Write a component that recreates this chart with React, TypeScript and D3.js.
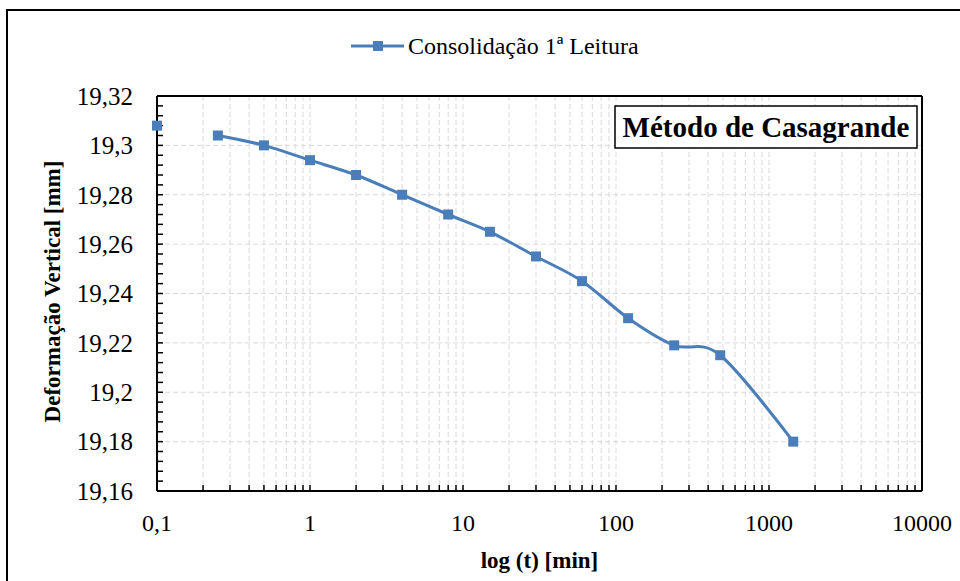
import React from "react";
import * as d3 from "d3";

const times = [0.1, 0.25, 0.5, 1, 2, 4, 8, 15, 30, 60, 120, 240, 480, 1440];
const deform = [19.308, 19.304, 19.3, 19.294, 19.288, 19.28, 19.272, 19.265, 19.255, 19.245, 19.23, 19.219, 19.215, 19.18];
const yTicks = [19.16, 19.18, 19.2, 19.22, 19.24, 19.26, 19.28, 19.3, 19.32];
const xMajor = [0.1, 1, 10, 100, 1000, 10000];
const seriesName = "Consolidação 1ª Leitura";
const boxTitle = "Método de Casagrande";
const xTitle = "log (t) [min]";
const yTitle = "Deformação Vertical [mm]";

const W = 960, H = 581;
const L = 157, R = 922, T = 96, B = 491;
const FONT = "Times New Roman, Liberation Serif, DejaVu Serif, serif";
const BLUE = "#4a7ebb";

const fmt = (v: number) => String(+v.toFixed(3)).replace(".", ",");

export default function App() {
  const x = d3.scaleLog().domain([0.1, 10000]).range([L, R]);
  const y = d3.scaleLinear().domain([19.16, 19.32]).range([B, T]);

  const xAll: number[] = [];
  for (let e = -1; e < 4; e++) for (let k = 1; k <= 9; k++) xAll.push(k * Math.pow(10, e));
  xAll.push(10000);
  const yMinor: number[] = [];
  for (let i = 0; i <= 40; i++) yMinor.push(19.16 + i * 0.004);

  const pts = times.map((t, i) => [x(t), y(deform[i])] as [number, number]);
  const line = d3.line().curve(d3.curveCardinal.tension(0))(pts.slice(1)) || "";

  return (
    <svg width={W} height={H} style={{ position: "absolute", left: 0, top: 0, fontFamily: FONT }}>
      <rect x={0} y={0} width={W} height={H} fill="#fff" />
      <rect x={7} y={10} width={W + 10} height={H + 10} fill="none" stroke="#000" strokeWidth={2} />
      {/* grid */}
      {xAll.filter(v => v > 0.1 && v < 10000).map((v, i) => (
        <line key={"gx" + i} x1={x(v)} x2={x(v)} y1={T} y2={B} stroke="#d9d9d9" strokeWidth={1} strokeDasharray="5,3" />
      ))}
      {yTicks.filter(v => v > 19.16 && v < 19.32).map((v, i) => (
        <line key={"gy" + i} x1={L} x2={R} y1={y(v)} y2={y(v)} stroke="#d9d9d9" strokeWidth={1} strokeDasharray="5,3" />
      ))}
      {/* ticks */}
      {yMinor.map((v, i) => (
        <line key={"ty" + i} x1={L} x2={L + 6} y1={y(v)} y2={y(v)} stroke="#000" strokeWidth={1.5} />
      ))}
      {xAll.map((v, i) => (
        <line key={"tx" + i} x1={x(v)} x2={x(v)} y1={B} y2={B - 6} stroke="#000" strokeWidth={1.5} />
      ))}
      {/* axes frame */}
      <line x1={L} x2={L} y1={T} y2={B} stroke="#000" strokeWidth={2} />
      <line x1={R} x2={R} y1={T} y2={B} stroke="#000" strokeWidth={2} />
      <line x1={L} x2={R} y1={T} y2={T} stroke="#000" strokeWidth={2} />
      <line x1={L} x2={R} y1={B} y2={B} stroke="#000" strokeWidth={2} />
      {/* tick labels */}
      {yTicks.map((v, i) => (
        <text key={"ly" + i} x={133} y={y(v)} dy="0.35em" textAnchor="end" fontSize={25}>{fmt(v)}</text>
      ))}
      {xMajor.map((v, i) => (
        <text key={"lx" + i} x={x(v)} y={531} textAnchor="middle" fontSize={24}>{fmt(v)}</text>
      ))}
      {/* titles */}
      <text x={(L + R) / 2} y={568} textAnchor="middle" fontSize={23} fontWeight="bold">{xTitle}</text>
      <text transform={`translate(60,${(T + B) / 2 - 2}) rotate(-90)`} textAnchor="middle" fontSize={23} fontWeight="bold">{yTitle}</text>
      {/* series */}
      <path d={line} fill="none" stroke={BLUE} strokeWidth={3} />
      {pts.map((p, i) => (
        <rect key={"m" + i} x={p[0] - 5} y={p[1] - 5} width={10} height={10} fill={BLUE} />
      ))}
      {/* legend */}
      <line x1={351} x2={404} y1={46} y2={46} stroke={BLUE} strokeWidth={3} />
      <rect x={373} y={41} width={10} height={10} fill={BLUE} />
      <text x={408} y={54} fontSize={24}>{seriesName}</text>
      {/* box */}
      <rect x={615} y={106} width={302} height={42} fill="#fff" stroke="#000" strokeWidth={1.5} />
      <text x={766} y={137} textAnchor="middle" fontSize={29} fontWeight="bold">{boxTitle}</text>
    </svg>
  );
}
